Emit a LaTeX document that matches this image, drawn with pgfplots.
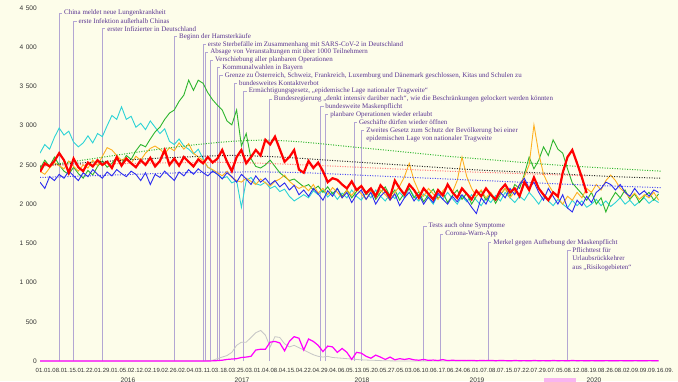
\documentclass[border=0pt]{standalone}
\usepackage{fontspec}
\setmainfont{Liberation Serif}
\setsansfont{Liberation Sans}
\usepackage{pgfplots}
\usepackage{pgfplotstable}
\usepgfplotslibrary{fillbetween}
\pgfplotsset{compat=1.18}
\definecolor{bgc}{HTML}{FDFDEA}
\definecolor{c16}{HTML}{2A2AF0}
\definecolor{c17}{HTML}{2CD3D6}
\definecolor{c18}{HTML}{2DB52D}
\definecolor{c19}{HTML}{FFB020}
\definecolor{c20}{HTML}{FF0000}
\definecolor{cmag}{HTML}{FF00FF}
\definecolor{cpink}{HTML}{F8B4F0}
\definecolor{evl}{HTML}{B3A6D3}
\definecolor{evt}{HTML}{5A3592}

\pgfplotstableread{
d b c g o r m k
0 2280 2650 2450 2420 2410 0 0
2 2200 2760 2560 2380 2520 0 0
4 2350 2700 2480 2460 2480 0 0
6 2300 2850 2600 2530 2550 0 0
8 2380 2970 2500 2490 2650 0 0
10 2330 2880 2420 2450 2560 0 0
12 2420 2930 2380 2550 2400 0 0
14 2360 2790 2470 2480 2580 0 0
16 2300 2730 2390 2420 2470 0 0
18 2400 2780 2330 2500 2420 0 0
20 2350 2870 2430 2460 2530 0 0
22 2440 2780 2370 2560 2480 0 0
24 2380 2900 2480 2490 2560 0 0
26 2330 2860 2550 2610 2500 0 0
28 2410 3000 2470 2720 2540 0 0
30 2360 3130 2520 2690 2460 0 0
32 2440 3080 2600 2620 2600 0 0
34 2390 3240 2510 2560 2490 0 0
36 2350 3080 2620 2590 2580 0 0
38 2420 3120 2570 2520 2520 0 0
40 2380 2980 2680 2610 2470 0 0
42 2300 3030 2760 2560 2560 0 0
44 2400 2950 2730 2650 2500 0 0
46 2250 3060 2830 2710 2590 0 0
48 2380 2980 2920 2740 2480 0 0
50 2340 2900 2980 2700 2550 0 0
52 2420 2960 3080 2640 2690 0 0
54 2360 2800 3160 2720 2500 0 0
56 2300 2760 3200 2680 2580 0 0
58 2410 2830 3310 2780 2490 0 0
60 2360 2740 3390 2700 2600 0 0
62 2440 2700 3580 2770 2540 0 0
64 2380 2640 3450 2650 2480 0 0
66 2450 2700 3580 2600 2570 0 0
68 2400 2580 3540 2560 2520 0 0
70 2360 2470 3420 2470 2600 0 5
72 2420 2430 3330 2440 2530 2 10
74 2380 2380 3260 2400 2580 5 30
76 2320 2330 3200 2360 2690 10 50
78 2400 2350 3060 2420 2540 20 70
80 2350 2270 3010 2340 2420 25 110
82 2280 2300 3200 2300 2600 30 200
84 2380 1960 2740 2280 2690 45 240
86 2320 2300 2900 2330 2520 50 240
88 2250 2340 2580 2290 2600 60 300
90 2360 2260 2480 2250 2690 140 360
92 2280 2240 2460 2320 2620 150 390
94 2330 2280 2500 2270 2820 150 330
96 2250 2200 2560 2230 2760 240 180
98 2300 2230 2480 2290 2860 250 310
100 2220 2160 2400 2320 2700 230 300
102 2270 2190 2350 2370 2540 130 220
104 2180 2100 2300 2290 2600 250 180
106 2240 2040 2320 2240 2690 310 200
108 2120 2080 2270 2200 2440 290 170
110 2180 2120 2220 2230 2400 140 140
112 2100 2080 2250 2170 2550 280 110
114 2200 2170 2180 2250 2460 250 80
116 2130 2120 2230 2140 2530 200 60
118 2050 2180 2150 2200 2420 120 50
120 2170 2090 2220 2120 2280 190 60
122 2100 2150 2130 2210 2330 180 45
124 2200 2060 2200 2150 2310 110 40
126 2080 2140 2100 2080 2250 160 35
128 2150 2080 2180 2180 2200 110 30
130 2020 2180 2080 2110 2290 20 25
132 2120 2100 2160 2200 2180 110 20
134 2180 2050 2230 2130 2230 100 15
136 2060 2150 2120 2060 2140 60 12
138 2150 2080 2190 2170 2200 35 10
140 2000 2180 2060 2100 2100 75 8
142 2100 2100 2150 2180 2240 50 5
144 2160 2040 2220 2120 2170 20 3
146 2050 2130 2100 2050 2090 50 2
148 2130 2070 2180 2150 2300 15 1
150 1980 2150 2050 2230 2200 30 0
152 2080 2080 2140 2350 2120 20 0
154 2150 2200 2200 2520 2250 30 0
156 2040 2100 2080 2300 2180 15 0
158 2120 2040 2160 2160 2080 10 0
160 2000 2130 2030 2100 2200 20 0
162 2090 2080 2120 2200 2130 8 0
164 2020 2000 2190 2130 2060 12 0
166 2140 2120 2070 2060 2180 6 0
168 2060 2060 2150 2170 2110 18 0
170 2000 2150 2020 2240 2250 5 0
172 2100 2070 2110 2150 2150 10 0
174 2030 2000 2180 2300 2080 6 0
176 2120 2100 2060 2600 2200 8 0
178 2050 2030 2140 2350 2130 5 0
180 1960 2120 2000 2200 2060 8 0
182 1880 2050 2100 2100 2170 4 0
184 2080 1980 2170 2180 2100 6 0
186 2000 2080 2050 2080 2200 5 0
188 2130 2020 2130 2150 2120 7 0
190 2050 2110 2010 2050 2060 4 0
192 2150 2040 2120 2130 2180 6 0
194 2080 2150 2200 2200 2250 5 0
196 2200 2080 2100 2080 2150 3 0
198 2120 2020 2250 2160 2200 6 0
200 2250 2100 2200 2250 2100 4 0
202 2330 2050 2380 2350 2280 5 0
204 2200 2150 2600 2500 2180 3 0
206 2280 2080 2450 3010 2340 6 0
208 2150 2000 2560 2650 2200 4 0
210 2050 2100 2730 2380 2120 5 0
212 2200 2040 2620 2250 2050 3 0
214 2100 1980 2820 2150 2150 6 0
216 2000 2060 2700 2080 2100 4 0
218 2120 2000 2650 2000 2400 5 0
220 1950 1950 2450 2100 2600 3 0
222 1900 2050 2270 2050 2690 6 0
224 2050 1980 2200 2150 2520 4 0
226 1980 2040 2130 2080 2340 5 0
228 2100 1960 2050 2200 2140 3 0
230 2020 2000 2150 2150 nan 5 0
232 2150 2060 2000 2250 nan 4 0
234 2200 1980 2080 2180 nan 3 0
236 2280 2040 1900 2300 nan 5 0
238 2250 1970 2050 2370 nan 4 0
240 2180 2020 2150 2300 nan 3 0
242 2250 2080 2080 2200 nan 5 0
244 2150 2000 2180 2150 nan 4 0
246 2100 2050 2060 2080 nan 3 0
248 2200 1980 2130 2140 nan 5 0
250 2120 2030 2020 2060 nan 4 0
252 2170 2080 2100 2120 nan 3 0
254 2100 2010 2150 2080 nan 5 0
256 2180 2060 2050 2150 nan 4 0
258 2150 2020 2130 2050 nan 3 0
}\data

\pgfplotstableread{
d r
88 2600
90 2690
92 2620
94 2820
96 2760
98 2860
100 2700
102 2540
104 2600
106 2690
108 2440
110 2400
112 2550
114 2460
116 2530
118 2420
120 2280
122 2330
124 2310
126 2250
128 2200
130 2290
132 2180
}\exc

\newcommand{\evfont}{\fontsize{7}{8.5}\selectfont}
\newcommand{\ev}[3]{\draw[evl, line width=0.9bp] (axis cs:#1,0) -- (axis cs:#1,#2) -- ++(3bp,0) node[anchor=west, inner sep=1.5bp, text=evt, font=\evfont] {#3};}
\newcommand{\evm}[3]{\draw[evl, line width=0.9bp] (axis cs:#1,0) -- (axis cs:#1,#2) -- ++(3bp,0) node[anchor=north west, yshift=4.6bp, inner sep=1.5bp, text=evt, align=left, font=\evfont] {#3};}
\newcommand{\ts}{\hspace{2.5bp}}

\begin{document}
\begin{tikzpicture}[x=1bp,y=1bp]
\fill[bgc] (0,0) rectangle (678,381);
\begin{axis}[
  at={(40bp,20bp)}, anchor=south west,
  width=621bp, height=353bp, scale only axis,
  xmin=0, xmax=259, ymin=0, ymax=4500,
  no marks,
  axis background/.style={fill=white},
  axis line style={gray!45, line width=0.6bp},
  major tick length=0pt,
  grid=major, grid style={gray!22, line width=0.5bp},
  xtick={0,7,...,259},
  xticklabels={01.01.,08.01.,15.01.,22.01.,29.01.,05.02.,12.02.,19.02.,26.02.,04.03.,11.03.,18.03.,25.03.,01.04.,08.04.,15.04.,22.04.,29.04.,06.05.,13.05.,20.05.,27.05.,03.06.,10.06.,17.06.,24.06.,01.07.,08.07.,15.07.,22.07.,29.07.,05.08.,12.08.,19.08.,26.08.,02.09.,09.09.,16.09.},
  ytick={0,500,...,4500},
  yticklabels={0,500,1\ts000,1\ts500,2\ts000,2\ts500,3\ts000,3\ts500,4\ts000,4\ts500},
  xticklabel style={font=\sffamily\fontsize{6}{6}\selectfont, text=black!80, inner sep=0pt, yshift=-7bp, xshift=4bp},
  yticklabel style={font=\sffamily\fontsize{6.6}{7}\selectfont, text=black!80, inner sep=0pt, xshift=-3bp},
]
% event lines and annotations
\ev{8}{4433}{China meldet neue Lungenkrankheit}
\ev{14}{4331}{erste Infektion außerhalb Chinas}
\ev{26}{4233}{erster Infizierter in Deutschland}
\ev{56}{4135}{Beginn der Hamsterkäufe}
\ev{68}{4036}{erste Sterbefälle im Zusammenhang mit SARS-CoV-2 in Deutschland}
\ev{69}{3937}{Absage von Veranstaltungen mit über 1000 Teilnehmern}
\ev{71}{3837}{Verschiebung aller planbaren Operationen}
\ev{74}{3738}{Kommunalwahlen in Bayern}
\ev{75}{3638}{Grenze zu Österreich, Schweiz, Frankreich, Luxemburg und Dänemark geschlossen, Kitas und Schulen zu}
\ev{81}{3539}{bundesweites Kontaktverbot}
\ev{85}{3440}{Ermächtigungsgesetz, „epidemische Lage nationaler Tragweite“}
\ev{95.5}{3340}{Bundesregierung „denkt intensiv darüber nach“, wie die Beschränkungen gelockert werden könnten}
\ev{117}{3241}{bundesweite Maskenpflicht}
\ev{119}{3142}{planbare Operationen wieder erlaubt}
\ev{131}{3042}{Geschäfte dürfen wieder öffnen}
\evm{134}{2943}{Zweites Gesetz zum Schutz der Bevölkerung bei einer\\epidemischen Lage von nationaler Tragweite}
\ev{160}{1721}{Tests auch ohne Symptome}
\ev{167}{1615}{Corona-Warn-App}
\ev{187}{1508}{Merkel gegen Aufhebung der Maskenpflicht}
\evm{220}{1415}{Pflichttest für\\Urlaubsrückkehrer\\aus „Risikogebieten“}

% excess area 2020
\addplot[draw=none, name path=R, forget plot] table[x=d,y=r]{\exc};
\addplot[draw=none, name path=B, forget plot] coordinates {(88,2330) (92,2290) (96,2240) (104,2200) (112,2150) (120,2120) (128,2100) (132,2090)};
\addplot[cpink, forget plot] fill between[of=R and B];

% years
\addplot[c17, line width=0.9bp] table[x=d,y=c]{\data};
\addplot[c18, line width=0.9bp] table[x=d,y=g]{\data};
\addplot[c19, line width=0.9bp] table[x=d,y=o]{\data};
\addplot[c16, line width=0.9bp] table[x=d,y=b]{\data};

% trend lines
\addplot[c18, line width=1bp, dash pattern=on 1bp off 1.5bp, smooth] coordinates {(0,2480) (20,2570) (40,2660) (60,2740) (80,2800) (95,2815) (110,2790) (130,2730) (150,2670) (170,2610) (190,2560) (210,2510) (230,2470) (259,2420)};
\addplot[black!85, line width=1bp, dash pattern=on 1bp off 1.5bp, smooth] coordinates {(0,2490) (20,2530) (40,2570) (60,2600) (80,2620) (100,2600) (120,2560) (140,2520) (160,2480) (180,2440) (200,2410) (220,2380) (240,2350) (259,2330)};
\addplot[c20!55, line width=1bp, dash pattern=on 1bp off 1.5bp, smooth] coordinates {(0,2490) (40,2520) (80,2530) (110,2500) (140,2460) (170,2420) (200,2390) (228,2360)};
\addplot[c16!85, line width=1bp, dash pattern=on 1bp off 1.5bp, smooth] coordinates {(0,2340) (30,2370) (60,2400) (90,2410) (110,2400) (140,2360) (170,2320) (200,2280) (230,2240) (259,2210)};

% 2020
\addplot[c20, line width=2.2bp] table[x=d,y=r]{\data};
% COVID-19 deaths
\addplot[gray!45, line width=0.8bp] table[x=d,y=k]{\data};
\addplot[cmag, line width=1.2bp] table[x=d,y=m]{\data};
\end{axis}
% legend row (cut by the page edge)
\begin{scope}[every node/.style={font=\sffamily\fontsize{6.6}{7}\selectfont, text=black!80, anchor=north, inner sep=0pt}]
\node at (128,3) {2016};
\node at (242,3) {2017};
\node at (362,3) {2018};
\node at (477,3) {2019};
\fill[cpink] (544,3) rectangle (576,-8);
\node at (594,3) {2020};
\end{scope}
\pgfresetboundingbox
\path[use as bounding box] (0,0) rectangle (678,381);
\end{tikzpicture}
\end{document}
